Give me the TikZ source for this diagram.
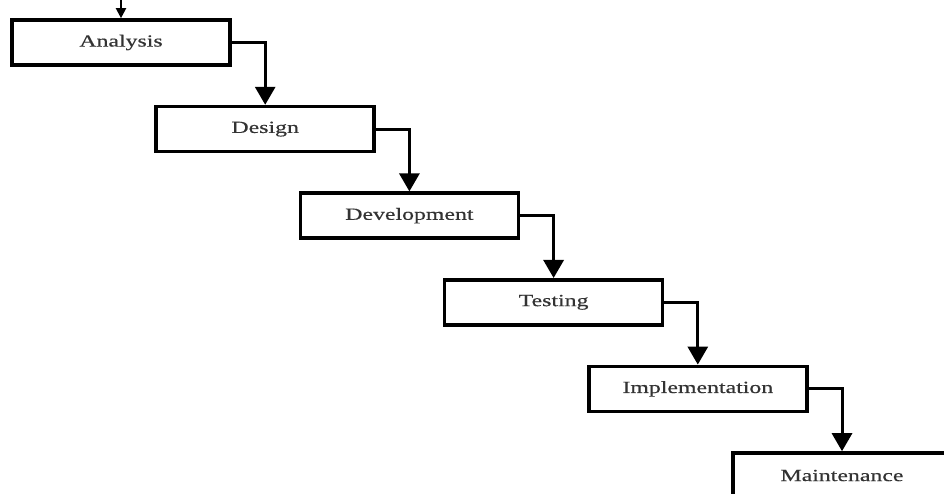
\documentclass[tikz,border=0pt]{standalone}
\usepackage{fontspec}
\setmainfont{Liberation Serif}[FakeStretch=1.4,FakeBold=0.5]
\usetikzlibrary{arrows.meta}

\begin{document}
\begin{tikzpicture}[x=1pt,y=1pt,
  phase/.style={draw=black,line width=3.6pt,fill=white,minimum width=218pt,
                minimum height=45pt,inner sep=0pt,text=black!80,
                font=\fontsize{17}{20}\selectfont},
  flow/.style={-{Triangle[length=18pt,width=20pt]},line width=3pt,draw=black}
]
  \useasboundingbox (0,0) rectangle (944,493);
  \clip (0,0) rectangle (944,493);
  \fill[white] (0,0) rectangle (944,493);
  \node[phase] (ana) at (121,450.5) {Analysis};
  \node[phase] (des) at (265.2,363.9) {Design};
  \node[phase] (dev) at (409.4,277.3) {Development};
  \node[phase] (tst) at (553.6,190.7) {Testing};
  \node[phase] (imp) at (697.8,104.1) {Implementation};
  \node[phase] (mnt) at (842,17.5) {Maintenance};
  \coordinate (start) at (121,515);
  \draw[-{Triangle[length=10pt,width=10pt]},line width=2pt] (start) -- (ana.north);
  \draw[flow] (ana.east) -| (des.north);
  \draw[flow] (des.east) -| (dev.north);
  \draw[flow] (dev.east) -| (tst.north);
  \draw[flow] (tst.east) -| (imp.north);
  \draw[flow] (imp.east) -| (mnt.north);
\end{tikzpicture}
\end{document}
